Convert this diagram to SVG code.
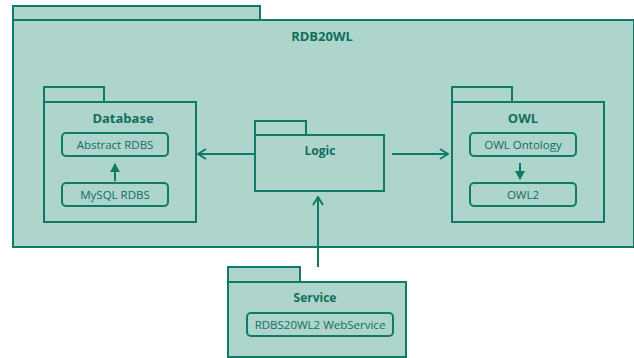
<svg xmlns="http://www.w3.org/2000/svg" width="634" height="358" viewBox="0 0 634 358">
<defs>
<style>
.pk{fill:#aed5cc;stroke:#117a66;stroke-width:2}
.bx{fill:#aed5cc;stroke:#117a66;stroke-width:2}
.ln{fill:none;stroke:#117a66;stroke-width:2}
.t{font-family:"Open Sans","Noto Sans",sans-serif;fill:#0f6e5c;text-anchor:middle}
.b{font-weight:bold;font-size:13px}
.n{font-size:11.5px}
</style>
<marker id="fa" viewBox="0 0 9 10" refX="8" refY="5" markerWidth="9" markerHeight="10" orient="auto" markerUnits="userSpaceOnUse">
<path d="M0,0 L9,5 L0,10 z" fill="#117a66"/>
</marker>
<marker id="oa" viewBox="0 0 10 12" refX="9" refY="6" markerWidth="10" markerHeight="12" orient="auto" markerUnits="userSpaceOnUse">
<path d="M1,1 L9,6 L1,11" fill="none" stroke="#117a66" stroke-width="2"/>
</marker>
</defs>
<g id="RDB20WL">
<rect class="pk" x="13" y="6" width="247" height="14"/>
<rect class="pk" x="13" y="20" width="621" height="227"/>
<text class="t b" x="322" y="41">RDB20WL</text>
</g>
<g id="Database">
<rect class="pk" x="44" y="87" width="60" height="15"/>
<rect class="pk" x="44" y="102" width="152" height="120"/>
<text class="t b" x="123" y="123">Database</text>
<g id="AbstractRDBS"><rect class="bx" x="62" y="133" width="106" height="23" rx="4"/><text class="t n" x="115" y="149">Abstract RDBS</text></g>
<g id="MySQLRDBS"><rect class="bx" x="62" y="183" width="106" height="23" rx="4"/><text class="t n" x="115" y="199">MySQL RDBS</text></g>
</g>
<g id="Logic">
<rect class="pk" x="255" y="121" width="51" height="14"/>
<rect class="pk" x="255" y="135" width="129" height="56"/>
<text class="t b" x="320" y="155" style="font-size:12px">Logic</text>
</g>
<g id="OWL">
<rect class="pk" x="452" y="87" width="60" height="15"/>
<rect class="pk" x="452" y="102" width="152" height="120"/>
<text class="t b" x="523" y="123">OWL</text>
<g id="OWLOntology"><rect class="bx" x="470" y="133" width="106" height="23" rx="4"/><text class="t n" x="523" y="149">OWL Ontology</text></g>
<g id="OWL2"><rect class="bx" x="470" y="183" width="106" height="23" rx="4"/><text class="t n" x="523" y="199">OWL2</text></g>
</g>
<g id="Service">
<rect class="pk" x="228" y="267" width="72" height="15"/>
<rect class="pk" x="228" y="282" width="178" height="75"/>
<text class="t b" x="315" y="302" style="font-size:12px">Service</text>
<g id="WebService"><rect class="bx" x="247" y="313" width="146" height="23" rx="4"/><text class="t n" x="320" y="329">RDBS20WL2 WebService</text></g>
</g>
<g id="connectors">
<path class="ln" d="M115,181 V164" marker-end="url(#fa)"/>
<path class="ln" d="M520,163 V179" marker-end="url(#fa)"/>
<path class="ln" d="M255,154 H198" marker-end="url(#oa)"/>
<path class="ln" d="M392,154 H448" marker-end="url(#oa)"/>
<path class="ln" d="M318,267 V197" marker-end="url(#oa)"/>
</g>
</svg>
